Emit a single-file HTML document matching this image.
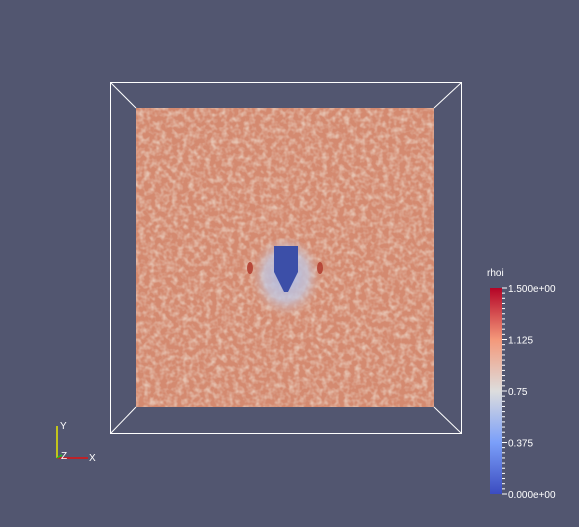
<!DOCTYPE html>
<html><head><meta charset="utf-8"><style>
html,body{margin:0;padding:0;background:#525670;}
svg{display:block;font-family:"Liberation Sans",sans-serif;}
</style></head><body>
<svg width="579" height="527" viewBox="0 0 579 527">
<defs>
<filter id="noise" x="0" y="0" width="100%" height="100%" color-interpolation-filters="sRGB">
<feTurbulence type="fractalNoise" baseFrequency="0.18" numOctaves="2" seed="3" result="t"/>
<feColorMatrix in="t" type="matrix" values="0 0 0 0 0.90  0 0 0 0 0.76  0 0 0 0 0.69  2.2 0 0 0 -0.85" result="c"/>
<feComposite in="c" in2="SourceGraphic" operator="in"/>
</filter>
<linearGradient id="cmap" x1="0" y1="1" x2="0" y2="0">
<stop offset="0" stop-color="#3b4cc0"/>
<stop offset="0.25" stop-color="#7b9ff9"/>
<stop offset="0.5" stop-color="#dddddd"/>
<stop offset="0.75" stop-color="#f4987a"/>
<stop offset="1" stop-color="#b40426"/>
</linearGradient>
<radialGradient id="halo" cx="0.5" cy="0.45" r="0.5">
<stop offset="0" stop-color="#aab8e6" stop-opacity="0.95"/>
<stop offset="0.6" stop-color="#c4c9e0" stop-opacity="0.75"/>
<stop offset="1" stop-color="#d8b0a0" stop-opacity="0"/>
</radialGradient>
</defs>
<g stroke="#ffffff" stroke-width="1" fill="none">
<rect x="110.5" y="82.5" width="351" height="351"/>
<line x1="110.5" y1="82.5" x2="136" y2="108"/>
<line x1="461.5" y1="82.5" x2="434" y2="108"/>
<line x1="110.5" y1="433.5" x2="136" y2="407"/>
<line x1="461.5" y1="433.5" x2="434" y2="407"/>
</g>
<g>
<rect x="136" y="108" width="298" height="299" fill="#d48a70"/>
<rect x="136" y="108" width="298" height="299" fill="#fff" filter="url(#noise)"/>
<ellipse cx="286" cy="280" rx="36" ry="42" fill="url(#halo)"/>
<ellipse cx="250" cy="268" rx="3" ry="6" fill="#b03a2c" opacity="0.85"/>
<ellipse cx="320" cy="268" rx="3" ry="6" fill="#b03a2c" opacity="0.85"/>
<path d="M274,246 L298,246 L298,272 L288,292 L284,292 L274,272 Z" fill="#3c4fa8"/>
</g>
<g>
<text x="487" y="276" font-size="10" fill="#fff">rhoi</text>
<rect x="490" y="288" width="12" height="206" fill="url(#cmap)"/>
<g id="ticks" stroke="#fff" stroke-width="1"></g>
<g id="labels" font-size="10" fill="#fff"></g>
</g>
<g>
<line x1="57" y1="458" x2="57" y2="426" stroke="#e8e800" stroke-width="1.5"/>
<line x1="57" y1="458" x2="88" y2="458" stroke="#e01010" stroke-width="1.5"/>
<line x1="57" y1="458" x2="62" y2="455" stroke="#20c020" stroke-width="1.5"/>
<text x="60" y="429" font-size="10" fill="#fff">Y</text>
<text x="89" y="461" font-size="10" fill="#fff">X</text>
<text x="61" y="459" font-size="10" fill="#fff">Z</text>
</g>
</svg>
<script>
const tickValues=[0,0.375,0.75,1.125,1.5];
const tickLabels=["0.000e+00","0.375","0.75","1.125","1.500e+00"];
const vmin=0,vmax=1.5,y0=494,y1=288;
function yScale(v){return y0-(v-vmin)/(vmax-vmin)*(y0-y1);}
const NS="http://www.w3.org/2000/svg";
const tg=document.getElementById('ticks'),lg=document.getElementById('labels');
for(let i=0;i<=40;i++){
  const y=yScale(vmin+i*(vmax-vmin)/40);
  const l=document.createElementNS(NS,'line');
  
  
  l.setAttribute('x1',502);l.setAttribute('x2',i%10==0?507:505);
  l.setAttribute('y1',y);l.setAttribute('y2',y);
  tg.appendChild(l);
}
tickValues.forEach((v,i)=>{
  const t=document.createElementNS(NS,'text');
  
  
  t.setAttribute('x',508);t.setAttribute('y',yScale(v)+4);
  t.textContent=tickLabels[i];
  lg.appendChild(t);
});
</script>
</body></html>
